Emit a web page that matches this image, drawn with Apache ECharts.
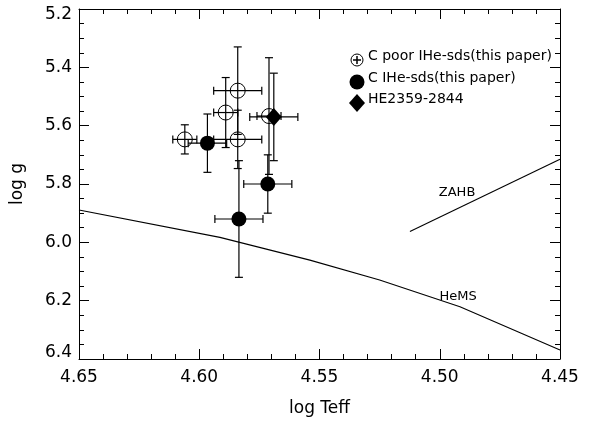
<!DOCTYPE html>
<html>
<head>
<meta charset="utf-8">
<script src="https://cdn.jsdelivr.net/npm/echarts@6/dist/echarts.min.js"></script>
<style>
  html, body { margin: 0; padding: 0; background: #fff; }
  #chart { width: 589px; height: 422px; }
</style>
</head>
<body>
<div id="chart"></div>
<script>
// C-poor intermediate-He subdwarfs
const poorTeff = [4.584, 4.589, 4.584, 4.606, 4.571];
const poorLogg = [5.48, 5.555, 5.647, 5.647, 5.567];
const poorTeffErr = [0.01, 0.005, 0.01, 0.005, 0.005];
const poorLoggErr = [0.15, 0.12, 0.10, 0.05, 0.20];

// C-rich intermediate-He subdwarfs
const richTeff = [4.5966, 4.5715, 4.5835];
const richLogg = [5.66, 5.80, 5.92];
const richTeffErr = [0.008, 0.01, 0.01];
const richLoggErr = [0.10, 0.10, 0.20];

// HE2359-2844
const heTeff = [4.569];
const heLogg = [5.57];
const heTeffErr = [0.01];
const heLoggErr = [0.15];

// Helium main sequence and zero-age horizontal branch
const hemsTeff = [4.65, 4.5914, 4.554, 4.525, 4.4916, 4.45];
const hemsLogg = [5.889, 5.983, 6.061, 6.129, 6.221, 6.369];
const zahbTeff = [4.5124, 4.45];
const zahbLogg = [5.963, 5.715];

// Curve label anchors
const curveLabels = [
  { name: 'ZAHB', teff: 4.4928, logg: 5.831 },
  { name: 'HeMS', teff: 4.4924, logg: 6.187 }
];

const legendNames = ['C poor IHe-sds(this paper)', 'C IHe-sds(this paper)', 'HE2359-2844'];

const FONT = 'DejaVu Sans';

function zip(a, b) { return a.map((v, i) => [v, b[i]]); }
function errRows(t, g, te, ge) { return t.map((v, i) => [v, g[i], te[i], ge[i]]); }

const errData = []
  .concat(errRows(poorTeff, poorLogg, poorTeffErr, poorLoggErr))
  .concat(errRows(richTeff, richLogg, richTeffErr, richLoggErr))
  .concat(errRows(heTeff, heLogg, heTeffErr, heLoggErr));

const CAP = 4;
function renderErr(params, api) {
  const x = api.value(0), y = api.value(1), xe = api.value(2), ye = api.value(3);
  const st = { stroke: '#000', lineWidth: 1.2 };
  const kids = [];
  const l = api.coord([x + xe, y]), r = api.coord([x - xe, y]);
  const t = api.coord([x, y - ye]), b = api.coord([x, y + ye]);
  if (xe > 0) {
    kids.push({ type: 'line', shape: { x1: l[0], y1: l[1], x2: r[0], y2: r[1] }, style: st });
    kids.push({ type: 'line', shape: { x1: l[0], y1: l[1] - CAP, x2: l[0], y2: l[1] + CAP }, style: st });
    kids.push({ type: 'line', shape: { x1: r[0], y1: r[1] - CAP, x2: r[0], y2: r[1] + CAP }, style: st });
  }
  if (ye > 0) {
    kids.push({ type: 'line', shape: { x1: t[0], y1: t[1], x2: b[0], y2: b[1] }, style: st });
    kids.push({ type: 'line', shape: { x1: t[0] - CAP, y1: t[1], x2: t[0] + CAP, y2: t[1] }, style: st });
    kids.push({ type: 'line', shape: { x1: b[0] - CAP, y1: b[1], x2: b[0] + CAP, y2: b[1] }, style: st });
  }
  return { type: 'group', children: kids };
}

const chart = echarts.init(document.getElementById('chart'), null, { renderer: 'canvas' });

const axisCommon = {
  type: 'value',
  inverse: true,
  axisLine: { show: true, lineStyle: { color: '#000', width: 1 } },
  axisTick: { show: true, inside: true, length: 10, lineStyle: { color: '#000' } },
  minorTick: { show: true, length: 5, lineStyle: { color: '#000' } },
  splitLine: { show: false }
};

const legendText = { fill: '#000', font: '14px "' + FONT + '"', textVerticalAlign: 'middle' };

// end labels of the log g axis sit slightly inside the frame
function loggLabel(v) {
  const s = v.toFixed(1);
  if (Math.abs(v - 5.2) < 1e-6) return '{top|' + s + '}';
  if (Math.abs(v - 6.4) < 1e-6) return '{bot|' + s + '}';
  return s;
}

chart.setOption({
  animation: false,
  backgroundColor: '#fff',
  grid: { left: 79, right: 29, top: 9, bottom: 63 },
  xAxis: [
    Object.assign({}, axisCommon, {
      min: 4.45, max: 4.65, interval: 0.05,
      position: 'bottom',
      minorTick: { show: true, splitNumber: 5, length: 5, lineStyle: { color: '#000' } },
      axisLabel: { color: '#000', fontFamily: FONT, fontSize: 17, margin: 10,
        formatter: v => v.toFixed(2) },
      name: 'log Teff', nameLocation: 'middle', nameGap: 41,
      nameTextStyle: { color: '#000', fontFamily: FONT, fontSize: 17 }
    }),
    Object.assign({}, axisCommon, {
      min: 4.45, max: 4.65, interval: 0.05,
      position: 'top',
      minorTick: { show: true, splitNumber: 5, length: 5, lineStyle: { color: '#000' } },
      axisLabel: { show: false }
    })
  ],
  yAxis: [
    Object.assign({}, axisCommon, {
      min: 5.2, max: 6.4, interval: 0.2,
      position: 'left',
      minorTick: { show: true, splitNumber: 4, length: 5, lineStyle: { color: '#000' } },
      axisLabel: { color: '#000', fontFamily: FONT, fontSize: 17, margin: 7,
        formatter: loggLabel,
        rich: {
          top: { fontFamily: FONT, fontSize: 17, color: '#000', padding: [12, 0, 0, 0] },
          bot: { fontFamily: FONT, fontSize: 17, color: '#000', padding: [0, 0, 12, 0] }
        } },
      name: 'log g', nameLocation: 'middle', nameGap: 53, nameRotate: 90,
      nameTextStyle: { color: '#000', fontFamily: FONT, fontSize: 17 }
    }),
    Object.assign({}, axisCommon, {
      min: 5.2, max: 6.4, interval: 0.2,
      position: 'right',
      minorTick: { show: true, splitNumber: 4, length: 5, lineStyle: { color: '#000' } },
      axisLabel: { show: false }
    })
  ],
  graphic: [
    // legend entries
    { type: 'circle', shape: { cx: 357, cy: 60, r: 6 }, style: { fill: 'none', stroke: '#000', lineWidth: 1 } },
    { type: 'line', shape: { x1: 353, y1: 60, x2: 361, y2: 60 }, style: { stroke: '#000', lineWidth: 1.5 } },
    { type: 'line', shape: { x1: 357, y1: 56, x2: 357, y2: 64 }, style: { stroke: '#000', lineWidth: 1.5 } },
    { type: 'text', left: 368, top: 49, style: Object.assign({ text: legendNames[0] }, legendText) },
    { type: 'circle', shape: { cx: 357, cy: 82, r: 7.5 }, style: { fill: '#000' } },
    { type: 'text', left: 368, top: 71, style: Object.assign({ text: legendNames[1] }, legendText) },
    { type: 'polygon', shape: { points: [[357, 94], [365, 103], [357, 112], [349, 103]] }, style: { fill: '#000' } },
    { type: 'text', left: 368, top: 92, style: Object.assign({ text: legendNames[2] }, legendText) }
  ],
  series: [
    {
      type: 'line', name: 'HeMS', data: zip(hemsTeff, hemsLogg),
      symbol: 'none', lineStyle: { color: '#000', width: 1.1 }, silent: true
    },
    {
      type: 'line', name: 'ZAHB', data: zip(zahbTeff, zahbLogg),
      symbol: 'none', lineStyle: { color: '#000', width: 1.1 }, silent: true
    },
    {
      type: 'scatter', name: 'curve labels',
      data: curveLabels.map(c => ({ value: [c.teff, c.logg], name: c.name })),
      symbolSize: 0, itemStyle: { opacity: 1 },
      label: { show: true, position: 'inside', formatter: p => p.name,
        color: '#000', opacity: 1, fontFamily: FONT, fontSize: 13 },
      silent: true
    },
    {
      type: 'custom', name: 'errors', data: errData, renderItem: renderErr,
      encode: { x: 0, y: 1 }, silent: true, z: 2
    },
    {
      type: 'scatter', name: legendNames[0], data: zip(poorTeff, poorLogg),
      symbol: 'circle', symbolSize: 15,
      itemStyle: { color: 'rgba(0,0,0,0)', borderColor: '#000', borderWidth: 1, opacity: 1 }, z: 3
    },
    {
      type: 'scatter', name: legendNames[1], data: zip(richTeff, richLogg),
      symbol: 'circle', symbolSize: 15,
      itemStyle: { color: '#000', opacity: 1 }, z: 4
    },
    {
      type: 'scatter', name: legendNames[2], data: zip(heTeff, heLogg),
      symbol: 'diamond', symbolSize: [16, 18],
      itemStyle: { color: '#000', opacity: 1 }, z: 5
    }
  ]
});
</script>
</body>
</html>
